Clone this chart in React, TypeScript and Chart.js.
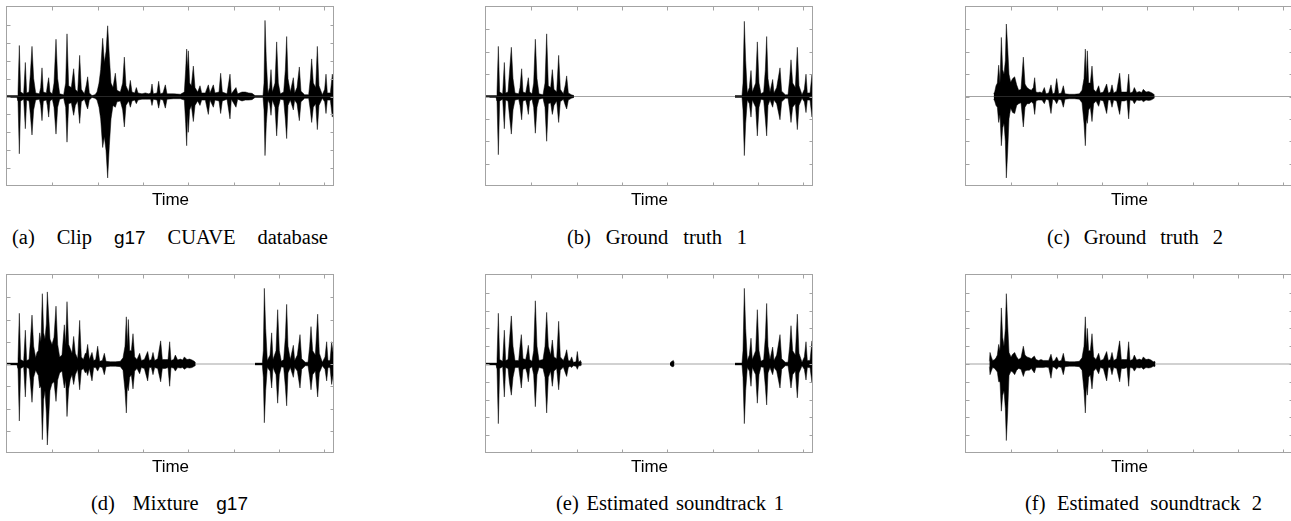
import React, { useEffect, useRef } from "react";
import { Chart, registerables } from "chart.js";

Chart.register(...registerables);

// [time, upper envelope, lower envelope]; null marks silence (gap)
type Sample = [number, number | null, number | null];

const TIME_MIN = 0;
const TIME_MAX = 981;
const TIME_TICK = 136;
const AMP_MIN = -1;
const AMP_MAX = 1;
const X_TITLE = "Time";

const clipG17: Sample[] = [
  [0, 0.01, -0.01], [30, 0.01, -0.01], [33, 0.05, -0.05], [37, 0.57, -0.64], [41, 0.05, -0.05],
  [50, 0.03, -0.03], [55, 0.38, -0.36], [59, 0.04, -0.04], [66, 0.05, -0.05], [70, 0.25, -0.2],
  [75, 0.56, -0.43], [80, 0.2, -0.15], [86, 0.04, -0.04], [97, 0.03, -0.03], [101, 0.1, -0.1],
  [105, 0.32, -0.27], [109, 0.05, -0.05], [118, 0.04, -0.04], [121, 0.12, -0.1], [125, 0.21, -0.23],
  [129, 0.05, -0.05], [136, 0.03, -0.03], [141, 0.15, -0.12], [147, 0.64, -0.42], [152, 0.2, -0.12],
  [158, 0.03, -0.03], [170, 0.02, -0.02], [176, 0.15, -0.12], [180, 0.7, -0.51], [185, 0.12, -0.08],
  [193, 0.1, -0.07], [200, 0.31, -0.21], [205, 0.08, -0.1], [212, 0.05, -0.05], [218, 0.46, -0.3],
  [223, 0.08, -0.06], [232, 0.03, -0.03], [238, 0.13, -0.1], [242, 0.22, -0.14], [247, 0.04, -0.04],
  [255, 0.01, -0.01], [264, 0.02, -0.02], [270, 0.05, -0.04], [276, 0.15, -0.12], [281, 0.3, -0.25],
  [287, 0.65, -0.57], [292, 0.38, -0.45], [297, 0.5, -0.6], [302, 0.79, -0.91], [307, 0.45, -0.55],
  [312, 0.15, -0.25], [318, 0.1, -0.1], [325, 0.26, -0.12], [330, 0.07, -0.06], [340, 0.05, -0.05],
  [347, 0.15, -0.15], [352, 0.44, -0.34], [357, 0.12, -0.1], [365, 0.05, -0.05], [370, 0.18, -0.12],
  [375, 0.05, -0.05], [383, 0.04, -0.04], [388, 0.1, -0.08], [393, 0.04, -0.04], [405, 0.03, -0.03],
  [415, 0.04, -0.03], [425, 0.03, -0.03], [431, 0.04, -0.03], [435, 0.14, -0.1], [439, 0.03, -0.03],
  [450, 0.04, -0.04], [455, 0.17, -0.13], [460, 0.03, -0.03], [468, 0.04, -0.04], [475, 0.13, -0.13],
  [480, 0.03, -0.03], [500, 0.03, -0.025], [520, 0.025, -0.025], [532, 0.05, -0.04], [536, 0.3, -0.3],
  [539, 0.53, -0.55], [542, 0.3, -0.2], [544, 0.51, -0.4], [548, 0.15, -0.15], [553, 0.12, -0.1],
  [559, 0.34, -0.28], [564, 0.1, -0.1], [572, 0.05, -0.05], [579, 0.12, -0.1], [584, 0.04, -0.04],
  [595, 0.04, -0.04], [604, 0.13, -0.2], [609, 0.04, -0.04], [619, 0.13, -0.12], [624, 0.04, -0.04],
  [636, 0.05, -0.05], [641, 0.26, -0.19], [646, 0.05, -0.05], [660, 0.03, -0.03], [669, 0.25, -0.25],
  [673, 0.03, -0.03], [687, 0.1, -0.12], [692, 0.03, -0.03], [705, 0.05, -0.05], [715, 0.05, -0.04],
  [725, 0.04, -0.04], [735, 0.035, -0.035], [744, 0.01, -0.01], [768, 0.01, -0.01], [771, 0.15, -0.15],
  [774, 0.85, -0.66], [778, 0.4, -0.3], [783, 0.04, -0.04], [788, 0.1, -0.08], [792, 0.3, -0.21],
  [796, 0.05, -0.04], [804, 0.15, -0.12], [809, 0.61, -0.44], [814, 0.15, -0.12], [820, 0.03, -0.03],
  [830, 0.05, -0.04], [835, 0.3, -0.25], [839, 0.67, -0.47], [843, 0.2, -0.1], [850, 0.05, -0.04],
  [859, 0.21, -0.15], [863, 0.04, -0.04], [870, 0.1, -0.08], [877, 0.33, -0.27], [882, 0.06, -0.06],
  [893, 0.02, -0.02], [905, 0.02, -0.02], [910, 0.2, -0.15], [914, 0.42, -0.29], [919, 0.15, -0.12],
  [926, 0.1, -0.08], [931, 0.56, -0.37], [936, 0.12, -0.1], [946, 0.02, -0.02], [953, 0.08, -0.06],
  [957, 0.25, -0.19], [961, 0.04, -0.04], [970, 0.04, -0.04], [976, 0.25, -0.23], [981, 0.1, -0.1],
];

const groundTruth1: Sample[] = [
  [0, 0.01, -0.01], [30, 0.01, -0.01], [33, 0.05, -0.05], [37, 0.56, -0.65], [41, 0.05, -0.05],
  [50, 0.03, -0.03], [55, 0.38, -0.36], [59, 0.04, -0.04], [66, 0.05, -0.05], [70, 0.25, -0.2],
  [76, 0.55, -0.42], [81, 0.2, -0.15], [87, 0.04, -0.04], [98, 0.03, -0.03], [102, 0.1, -0.1],
  [107, 0.31, -0.26], [111, 0.05, -0.05], [119, 0.04, -0.04], [123, 0.12, -0.1], [127, 0.21, -0.2],
  [131, 0.05, -0.05], [138, 0.03, -0.03], [143, 0.15, -0.12], [148, 0.64, -0.41], [153, 0.2, -0.12],
  [159, 0.03, -0.03], [171, 0.02, -0.02], [177, 0.15, -0.12], [182, 0.7, -0.5], [187, 0.12, -0.08],
  [194, 0.1, -0.07], [199, 0.3, -0.2], [204, 0.08, -0.1], [212, 0.05, -0.05], [218, 0.46, -0.29],
  [223, 0.08, -0.06], [232, 0.03, -0.03], [238, 0.13, -0.1], [242, 0.23, -0.14], [247, 0.04, -0.04],
  [256, 0.02, -0.02], [264, 0.01, -0.01], [265, null, null],
  [747, 0.01, -0.01], [768, 0.01, -0.01], [771, 0.15, -0.15], [775, 0.84, -0.66], [779, 0.4, -0.3],
  [784, 0.04, -0.04], [790, 0.1, -0.08], [795, 0.29, -0.23], [799, 0.05, -0.04], [809, 0.15, -0.12],
  [814, 0.61, -0.44], [819, 0.15, -0.12], [825, 0.03, -0.03], [833, 0.05, -0.04], [838, 0.3, -0.25],
  [842, 0.67, -0.44], [846, 0.2, -0.1], [852, 0.05, -0.04], [860, 0.19, -0.12], [864, 0.04, -0.04],
  [872, 0.1, -0.08], [882, 0.32, -0.26], [887, 0.06, -0.06], [898, 0.02, -0.02], [906, 0.02, -0.02],
  [911, 0.2, -0.15], [915, 0.41, -0.29], [920, 0.15, -0.12], [928, 0.1, -0.08], [934, 0.55, -0.37],
  [939, 0.12, -0.1], [948, 0.02, -0.02], [955, 0.08, -0.06], [960, 0.25, -0.18], [964, 0.04, -0.04],
  [972, 0.04, -0.04], [978, 0.25, -0.23], [982, 0.1, -0.1],
];

const groundTruth2: Sample[] = [
  [83, 0.03, -0.03], [86, 0.05, -0.05], [90, 0.12, -0.1], [94, 0.15, -0.12], [98, 0.35, -0.29],
  [102, 0.15, -0.2], [106, 0.66, -0.55], [110, 0.3, -0.35], [114, 0.25, -0.3], [118, 0.4, -0.5],
  [121, 0.81, -0.91], [125, 0.55, -0.62], [129, 0.25, -0.25], [134, 0.16, -0.13], [140, 0.2, -0.18],
  [146, 0.22, -0.19], [152, 0.13, -0.1], [158, 0.07, -0.08], [165, 0.08, -0.07], [172, 0.44, -0.34],
  [177, 0.14, -0.12], [183, 0.1, -0.08], [190, 0.08, -0.08], [196, 0.07, -0.06], [202, 0.1, -0.08],
  [206, 0.21, -0.2], [210, 0.05, -0.05], [216, 0.045, -0.04], [222, 0.05, -0.04], [228, 0.04, -0.04],
  [235, 0.1, -0.08], [240, 0.03, -0.03], [248, 0.04, -0.04], [255, 0.13, -0.19], [260, 0.03, -0.03],
  [266, 0.04, -0.04], [272, 0.2, -0.08], [278, 0.03, -0.03], [286, 0.04, -0.04], [292, 0.12, -0.12],
  [297, 0.03, -0.03], [310, 0.025, -0.025], [325, 0.025, -0.025], [340, 0.03, -0.03], [348, 0.07, -0.07],
  [354, 0.2, -0.3], [358, 0.53, -0.55], [361, 0.2, -0.25], [364, 0.51, -0.3], [368, 0.15, -0.15],
  [373, 0.15, -0.12], [378, 0.34, -0.28], [383, 0.08, -0.08], [390, 0.05, -0.05], [398, 0.12, -0.11],
  [403, 0.04, -0.04], [412, 0.05, -0.05], [422, 0.14, -0.19], [427, 0.04, -0.04], [433, 0.05, -0.04],
  [438, 0.13, -0.12], [443, 0.04, -0.04], [452, 0.06, -0.05], [461, 0.26, -0.2], [466, 0.05, -0.05],
  [475, 0.05, -0.05], [483, 0.05, -0.04], [488, 0.25, -0.25], [492, 0.04, -0.04], [500, 0.05, -0.045],
  [505, 0.1, -0.08], [512, 0.045, -0.04], [520, 0.055, -0.045], [527, 0.045, -0.04], [532, 0.08, -0.06],
  [540, 0.05, -0.04], [548, 0.055, -0.045], [555, 0.045, -0.04], [562, 0.03, -0.025], [566, 0.015, -0.015],
];

const mixtureG17: Sample[] = [
  [0, 0.01, -0.01], [30, 0.01, -0.01], [33, 0.05, -0.05], [37, 0.57, -0.64], [41, 0.05, -0.05],
  [50, 0.03, -0.03], [55, 0.38, -0.37], [59, 0.04, -0.04], [66, 0.05, -0.05], [70, 0.25, -0.2],
  [75, 0.55, -0.43], [80, 0.2, -0.15], [86, 0.07, -0.07], [90, 0.13, -0.1], [94, 0.15, -0.13],
  [98, 0.35, -0.27], [102, 0.25, -0.25], [106, 0.79, -0.85], [110, 0.35, -0.4], [114, 0.28, -0.3],
  [118, 0.45, -0.55], [121, 0.81, -0.91], [125, 0.55, -0.62], [129, 0.28, -0.3], [135, 0.22, -0.22],
  [141, 0.3, -0.2], [147, 0.65, -0.42], [152, 0.22, -0.18], [158, 0.08, -0.1], [165, 0.1, -0.08],
  [172, 0.44, -0.27], [176, 0.22, -0.18], [180, 0.7, -0.59], [185, 0.22, -0.28], [190, 0.17, -0.17],
  [195, 0.12, -0.12], [200, 0.31, -0.23], [205, 0.12, -0.12], [212, 0.06, -0.06], [218, 0.49, -0.29],
  [223, 0.08, -0.07], [229, 0.05, -0.05], [235, 0.12, -0.1], [238, 0.12, -0.08], [242, 0.22, -0.13],
  [247, 0.05, -0.05], [255, 0.13, -0.19], [260, 0.04, -0.04], [266, 0.05, -0.04], [272, 0.2, -0.08],
  [278, 0.03, -0.03], [286, 0.04, -0.04], [292, 0.12, -0.12], [297, 0.03, -0.03], [310, 0.025, -0.025],
  [325, 0.025, -0.025], [340, 0.03, -0.03], [348, 0.07, -0.07], [354, 0.2, -0.3], [358, 0.53, -0.55],
  [361, 0.2, -0.25], [364, 0.5, -0.3], [368, 0.15, -0.15], [373, 0.15, -0.12], [378, 0.34, -0.28],
  [383, 0.08, -0.08], [390, 0.05, -0.05], [398, 0.12, -0.11], [403, 0.04, -0.04], [412, 0.05, -0.05],
  [422, 0.14, -0.19], [427, 0.04, -0.04], [433, 0.05, -0.04], [438, 0.13, -0.12], [443, 0.04, -0.04],
  [452, 0.06, -0.05], [461, 0.26, -0.2], [466, 0.05, -0.05], [475, 0.05, -0.05], [483, 0.05, -0.04],
  [488, 0.25, -0.25], [492, 0.04, -0.04], [500, 0.05, -0.045], [505, 0.1, -0.08], [512, 0.045, -0.04],
  [520, 0.055, -0.045], [527, 0.045, -0.04], [532, 0.08, -0.06], [540, 0.05, -0.04], [548, 0.055, -0.045],
  [555, 0.045, -0.04], [562, 0.03, -0.025], [566, 0.015, -0.015], [567, null, null],
  [744, 0.01, -0.01], [766, 0.01, -0.01], [769, 0.15, -0.15], [772, 0.85, -0.66], [776, 0.4, -0.3],
  [781, 0.04, -0.04], [789, 0.1, -0.08], [794, 0.35, -0.27], [798, 0.05, -0.04], [807, 0.15, -0.12],
  [812, 0.61, -0.44], [817, 0.15, -0.12], [823, 0.03, -0.03], [830, 0.05, -0.04], [835, 0.3, -0.25],
  [839, 0.67, -0.47], [843, 0.2, -0.1], [850, 0.05, -0.04], [859, 0.21, -0.15], [863, 0.04, -0.04],
  [871, 0.1, -0.08], [879, 0.33, -0.27], [884, 0.06, -0.06], [895, 0.02, -0.02], [903, 0.02, -0.02],
  [908, 0.2, -0.15], [912, 0.42, -0.29], [917, 0.15, -0.12], [925, 0.1, -0.08], [932, 0.56, -0.37],
  [937, 0.12, -0.1], [946, 0.02, -0.02], [954, 0.08, -0.06], [959, 0.25, -0.19], [963, 0.04, -0.04],
  [969, 0.04, -0.04], [974, 0.25, -0.23], [979, 0.1, -0.1], [981, 0.08, -0.08],
];

const estimated1: Sample[] = [
  [0, 0.01, -0.01], [30, 0.01, -0.01], [33, 0.05, -0.05], [37, 0.57, -0.67], [41, 0.05, -0.05],
  [50, 0.03, -0.03], [55, 0.38, -0.37], [59, 0.04, -0.04], [66, 0.05, -0.05], [70, 0.25, -0.2],
  [76, 0.54, -0.35], [81, 0.2, -0.15], [87, 0.04, -0.04], [98, 0.04, -0.04], [102, 0.2, -0.15],
  [106, 0.33, -0.27], [111, 0.06, -0.06], [119, 0.05, -0.05], [123, 0.12, -0.1], [127, 0.21, -0.2],
  [131, 0.05, -0.05], [138, 0.03, -0.03], [143, 0.15, -0.12], [148, 0.71, -0.48], [153, 0.2, -0.12],
  [159, 0.04, -0.04], [171, 0.05, -0.05], [177, 0.2, -0.15], [182, 0.58, -0.55], [187, 0.2, -0.15],
  [194, 0.1, -0.08], [199, 0.27, -0.25], [204, 0.08, -0.08], [212, 0.06, -0.05], [218, 0.48, -0.29],
  [223, 0.08, -0.07], [232, 0.04, -0.035], [238, 0.1, -0.1], [242, 0.16, -0.14], [247, 0.04, -0.04],
  [252, 0.035, -0.025], [257, 0.08, -0.04], [262, 0.02, -0.02], [270, 0.025, -0.025], [274, 0.14, -0.06],
  [278, 0.02, -0.02], [283, 0.04, -0.02], [287, 0.01, -0.01], [288, null, null],
  [552, 0.01, -0.01], [558, 0.03, -0.03], [562, 0.04, -0.03], [565, 0.01, -0.01], [566, null, null],
  [747, 0.01, -0.01], [768, 0.01, -0.01], [771, 0.15, -0.15], [775, 0.85, -0.67], [779, 0.4, -0.3],
  [784, 0.04, -0.04], [790, 0.1, -0.08], [795, 0.29, -0.25], [799, 0.05, -0.04], [809, 0.15, -0.12],
  [814, 0.61, -0.44], [819, 0.15, -0.12], [825, 0.03, -0.03], [833, 0.05, -0.04], [838, 0.3, -0.25],
  [842, 0.68, -0.46], [846, 0.2, -0.1], [852, 0.05, -0.04], [860, 0.19, -0.12], [864, 0.04, -0.04],
  [872, 0.1, -0.08], [882, 0.33, -0.27], [887, 0.06, -0.06], [898, 0.02, -0.02], [906, 0.02, -0.02],
  [911, 0.2, -0.15], [915, 0.43, -0.27], [920, 0.15, -0.12], [928, 0.1, -0.08], [934, 0.56, -0.38],
  [939, 0.12, -0.1], [948, 0.02, -0.02], [955, 0.08, -0.06], [960, 0.25, -0.18], [964, 0.04, -0.04],
  [972, 0.04, -0.04], [978, 0.26, -0.21], [982, 0.1, -0.1],
];

const estimated2: Sample[] = [
  [70, 0.03, -0.03], [72, 0.13, -0.12], [76, 0.08, -0.08], [80, 0.04, -0.04], [86, 0.05, -0.05],
  [90, 0.07, -0.07], [94, 0.1, -0.09], [98, 0.22, -0.2], [102, 0.15, -0.2], [106, 0.63, -0.53],
  [110, 0.3, -0.35], [114, 0.2, -0.3], [118, 0.4, -0.5], [121, 0.79, -0.86], [125, 0.45, -0.55],
  [129, 0.13, -0.13], [135, 0.08, -0.08], [140, 0.11, -0.09], [146, 0.13, -0.12], [152, 0.08, -0.07],
  [158, 0.05, -0.05], [165, 0.07, -0.06], [172, 0.2, -0.14], [177, 0.1, -0.08], [183, 0.08, -0.07],
  [190, 0.07, -0.07], [196, 0.06, -0.05], [205, 0.09, -0.1], [210, 0.05, -0.04], [218, 0.04, -0.04],
  [225, 0.05, -0.04], [232, 0.04, -0.04], [240, 0.04, -0.035], [248, 0.04, -0.04], [255, 0.11, -0.16],
  [260, 0.03, -0.03], [266, 0.04, -0.04], [272, 0.08, -0.06], [278, 0.03, -0.03], [286, 0.04, -0.04],
  [292, 0.12, -0.12], [297, 0.03, -0.03], [310, 0.025, -0.025], [325, 0.025, -0.025], [340, 0.03, -0.03],
  [348, 0.07, -0.07], [354, 0.2, -0.3], [358, 0.53, -0.55], [361, 0.2, -0.25], [364, 0.4, -0.35],
  [368, 0.15, -0.15], [373, 0.15, -0.12], [378, 0.34, -0.28], [383, 0.08, -0.08], [390, 0.05, -0.05],
  [398, 0.12, -0.11], [403, 0.04, -0.04], [412, 0.05, -0.05], [422, 0.14, -0.19], [427, 0.04, -0.04],
  [433, 0.05, -0.04], [438, 0.13, -0.12], [443, 0.04, -0.04], [452, 0.06, -0.05], [461, 0.26, -0.2],
  [466, 0.05, -0.05], [475, 0.05, -0.05], [483, 0.05, -0.04], [488, 0.25, -0.25], [492, 0.04, -0.04],
  [500, 0.05, -0.045], [505, 0.1, -0.08], [512, 0.045, -0.04], [520, 0.055, -0.045], [527, 0.045, -0.04],
  [532, 0.08, -0.06], [540, 0.05, -0.04], [548, 0.055, -0.045], [555, 0.045, -0.04], [562, 0.025, -0.025],
  [566, 0.03, -0.03], [568, 0.01, -0.01],
];

// caption words; words wrapped in {} are set in a sans-serif face
const captionA = ["(a)", "Clip", "{g17}", "CUAVE", "database"];
const captionB = ["(b)", "Ground", "truth", "1"];
const captionC = ["(c)", "Ground", "truth", "2"];
const captionD = ["(d)", "Mixture", "{g17}"];
const captionE = ["(e)", "Estimated", "soundtrack", "1"];
const captionF = ["(f)", "Estimated", "soundtrack", "2"];

const ampStepA = 0.2;
const ampStepB = 0.25;
const ampStepC = 0.25;
const ampStepD = 0.25;
const ampStepE = 0.2;
const ampStepF = 0.2;

// ---------- layout / style ----------
const FRAME = "#a3a3a3";
const TICK_LEN = 3.5;
const CANVAS_W = 329;

const PANELS = [
  { samples: clipG17, step: ampStepA, words: captionA, left: 6, top: 6, h: 205, capL: 12, capR: 328, capBase: 244 },
  { samples: groundTruth1, step: ampStepB, words: captionB, left: 485, top: 6, h: 205, capL: 567, capR: 747, capBase: 244 },
  { samples: groundTruth2, step: ampStepC, words: captionC, left: 965, top: 6, h: 205, capL: 1047, capR: 1223, capBase: 244 },
  { samples: mixtureG17, step: ampStepD, words: captionD, left: 6, top: 274, h: 204, capL: 91, capR: 248, capBase: 510 },
  { samples: estimated1, step: ampStepE, words: captionE, left: 485, top: 274, h: 204, capL: 556, capR: 784, capBase: 510 },
  { samples: estimated2, step: ampStepF, words: captionF, left: 965, top: 274, h: 204, capL: 1025, capR: 1262, capBase: 510 },
];

const framePlugin = {
  id: "frameTicks",
  afterDatasetsDraw(chart: any) {
    const { ctx, chartArea, scales } = chart;
    const { left, right, top, bottom } = chartArea;
    const al = (v: number) => Math.round(v) + 0.5;
    ctx.save();
    ctx.strokeStyle = FRAME;
    ctx.lineWidth = 1;
    ctx.beginPath();
    for (const t of scales.x.ticks) {
      const px = scales.x.getPixelForValue(t.value);
      if (px <= left + 1.5 || px >= right - 1.5) continue;
      ctx.moveTo(al(px), top);
      ctx.lineTo(al(px), top + TICK_LEN);
      ctx.moveTo(al(px), bottom);
      ctx.lineTo(al(px), bottom - TICK_LEN);
    }
    for (const t of scales.y.ticks) {
      const py = scales.y.getPixelForValue(t.value);
      if (py <= top + 1.5 || py >= bottom - 1.5) continue;
      ctx.moveTo(left, al(py));
      ctx.lineTo(left + TICK_LEN, al(py));
      ctx.moveTo(right, al(py));
      ctx.lineTo(right - TICK_LEN, al(py));
    }
    ctx.stroke();
    ctx.strokeRect(al(left) - 1, al(top) - 1, Math.round(right - left), Math.round(bottom - top));
    ctx.restore();
  },
};

function WavePanel({ samples, step, left, top, h }: { samples: Sample[]; step: number; left: number; top: number; h: number }) {
  const ref = useRef<HTMLCanvasElement>(null);
  useEffect(() => {
    const canvas = ref.current;
    if (!canvas) return;
    const wave = {
      borderColor: "#000",
      backgroundColor: "#000",
      borderWidth: 0.5,
      pointRadius: 0,
      tension: 0,
      fill: "origin",
      spanGaps: false,
    };
    const chart = new Chart(canvas, {
      type: "line",
      data: {
        datasets: [
          { ...wave, data: samples.map(([t, hi]) => ({ x: t, y: hi })) },
          { ...wave, data: samples.map(([t, , lo]) => ({ x: t, y: lo })) },
          {
            data: [{ x: TIME_MIN, y: 0 }, { x: TIME_MAX, y: 0 }],
            borderColor: FRAME,
            borderWidth: 1,
            pointRadius: 0,
            fill: false,
          },
        ] as any,
      },
      options: {
        animation: false,
        responsive: false,
        events: [],
        layout: { padding: { left: 1, right: 1, top: 1, bottom: 0 } },
        plugins: { legend: { display: false }, tooltip: { enabled: false } },
        scales: {
          x: {
            type: "linear",
            min: TIME_MIN,
            max: TIME_MAX,
            ticks: { display: false, stepSize: TIME_TICK, includeBounds: false },
            grid: { display: false, drawTicks: false },
            border: { display: false },
            title: {
              display: true,
              text: X_TITLE,
              color: "#000",
              font: { family: "'Liberation Sans', Arial, sans-serif", size: 17 },
              padding: { top: 4.6, bottom: 0 },
            },
          },
          y: {
            type: "linear",
            display: false,
            min: AMP_MIN,
            max: AMP_MAX,
            ticks: { stepSize: step },
            grid: { drawTicks: false },
          },
        },
      } as any,
      plugins: [framePlugin],
    });
    return () => chart.destroy();
  }, [samples, step]);
  return (
    <canvas
      ref={ref}
      width={CANVAS_W}
      height={h}
      style={{ position: "absolute", left, top, width: CANVAS_W, height: h, display: "block" }}
    />
  );
}

function Caption({ words, capL, capR, capBase }: { words: string[]; capL: number; capR: number; capBase: number }) {
  return (
    <div
      style={{
        position: "absolute",
        left: capL,
        width: capR - capL,
        top: capBase - 16.75,
        height: 20,
        lineHeight: "20px",
        display: "flex",
        justifyContent: "space-between",
        alignItems: "baseline",
        fontFamily: "'Liberation Serif', 'Times New Roman', serif",
        fontSize: 20.5,
        color: "#000",
        whiteSpace: "nowrap",
      }}
    >
      {words.map((w, i) =>
        w.startsWith("{") ? (
          <span key={i} style={{ fontFamily: "'Liberation Sans', Arial, sans-serif", fontSize: 19 }}>
            {w.slice(1, -1)}
          </span>
        ) : (
          <span key={i}>{w}</span>
        )
      )}
    </div>
  );
}

export default function App() {
  return (
    <div style={{ position: "fixed", left: 0, top: 0, width: 1291, height: 521, overflow: "hidden", background: "#fff" }}>
      {PANELS.map((p, i) => (
        <React.Fragment key={i}>
          <WavePanel samples={p.samples} step={p.step} left={p.left} top={p.top} h={p.h} />
          <Caption words={p.words} capL={p.capL} capR={p.capR} capBase={p.capBase} />
        </React.Fragment>
      ))}
    </div>
  );
}
